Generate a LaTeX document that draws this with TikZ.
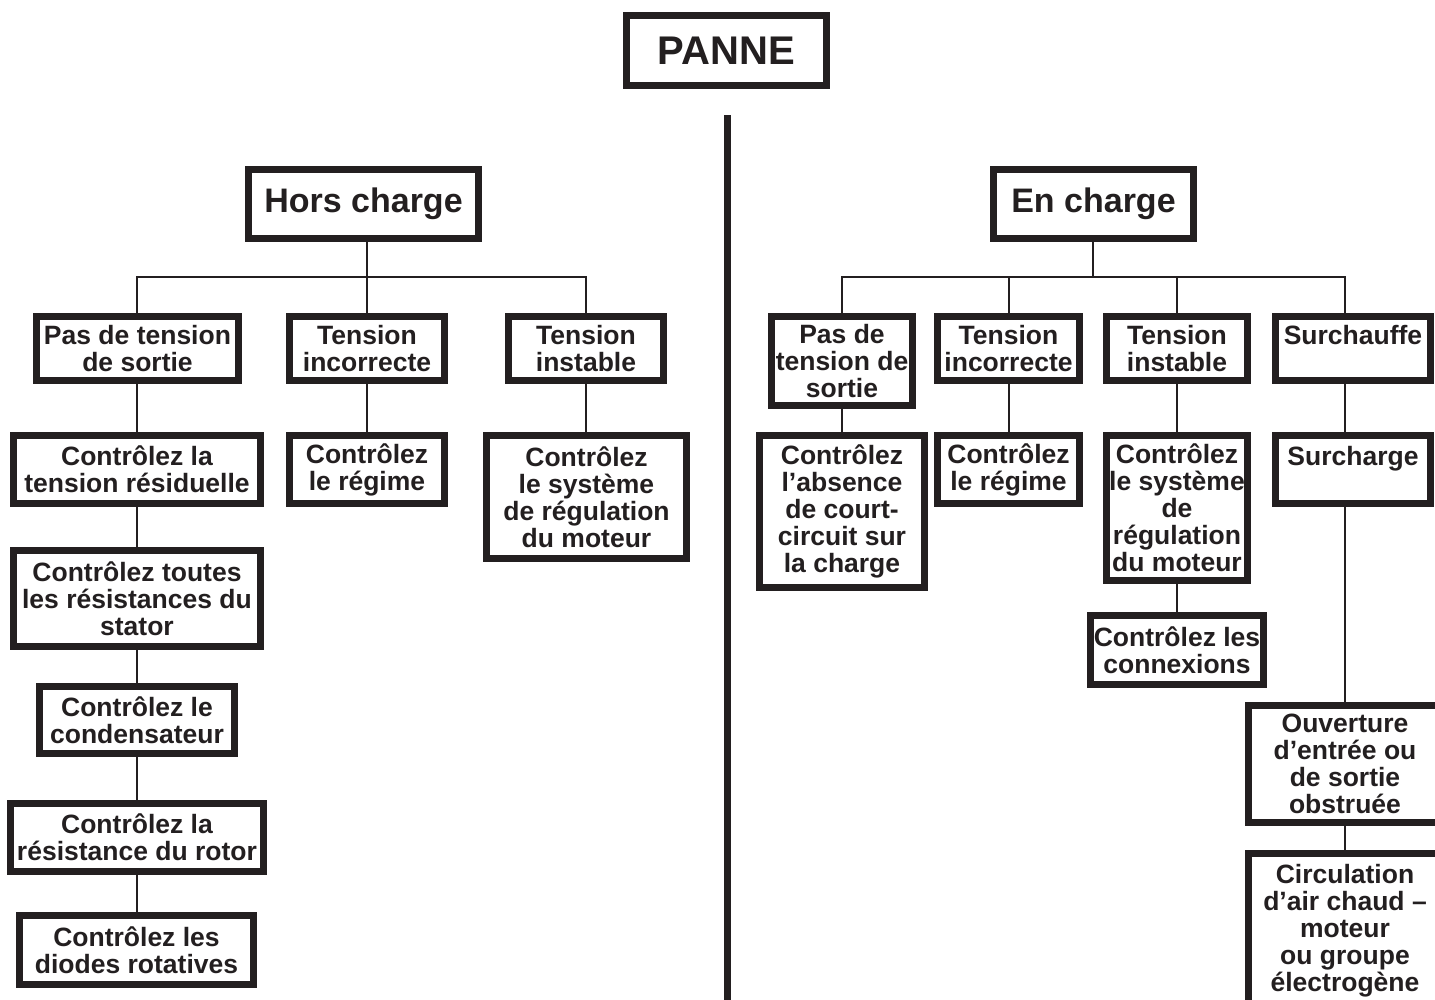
\documentclass[tikz,border=0pt]{standalone}
\usepackage{fontspec}
\setmainfont{Liberation Sans}
\definecolor{ink}{HTML}{231F20}
\tikzset{
  bx/.style={draw=ink,line width=7pt,fill=white,inner sep=0pt,align=center,text=ink,
    font=\bfseries\fontsize{26.5}{27}\selectfont},
  conn/.style={draw=ink,line width=2pt},
  divider/.style={draw=ink,line width=7pt}
}
\newcommand\mybox[7][]{%
  \pgfmathsetmacro\bcx{(#3+#5)/2}\pgfmathsetmacro\bcy{(#4+#6)/2}%
  \pgfmathsetmacro\bw{#5-#3-7}\pgfmathsetmacro\bh{#6-#4-7}%
  \node[bx,minimum width=\bw pt,minimum height=\bh pt,#1] (#2) at (\bcx,\bcy) {#7};}
\begin{document}
\begin{tikzpicture}[x=1pt,y=-1pt]
\useasboundingbox[fill=white] (0,0) rectangle (1435,999);
\clip (0,0) rectangle (1435,999);
% separator
\coordinate (divtop) at (727,115);
\coordinate (divbot) at (727,1005);
\draw[divider] (divtop) -- (divbot);
% buses
\coordinate (busL) at (367,277);
\coordinate (busR) at (1093,277);
\coordinate (colL) at (137,0);
\coordinate (colI) at (586,0);
\coordinate (colS) at (1345,0);
% top
\mybox[font=\bfseries\fontsize{40}{42}\selectfont]{panne}{623}{12}{830}{89}{PANNE}
\mybox[font=\bfseries\fontsize{34}{36}\selectfont]{hc}{245}{166}{482}{242}{Hors charge}
\mybox[font=\bfseries\fontsize{34}{36}\selectfont]{ec}{990}{166}{1197}{242}{En charge}
% left row 1
\mybox{l1}{33}{313}{242}{384}{Pas de tension\\de sortie}
\mybox{l2}{286}{313}{448}{384}{Tension\\incorrecte}
\mybox{l3}{505}{313}{667}{384}{Tension\\instable}
% left chain
\mybox{la}{10}{432}{264}{507}{Contrôlez la\\tension résiduelle}
\mybox{lb}{10}{547}{264}{650}{Contrôlez toutes\\les résistances du\\stator}
\mybox{lc}{36}{683}{238}{757}{Contrôlez le\\condensateur}
\mybox{ld}{7}{800}{267}{875}{Contrôlez la\\résistance du rotor}
\mybox{le}{16}{912}{257}{988}{Contrôlez les\\diodes rotatives}
\mybox{lm}{286}{432}{448}{507}{Contrôlez\\le régime}
\mybox{lr}{483}{432}{690}{562}{Contrôlez\\le système\\de régulation\\du moteur}
% right row 1
\mybox{r1}{768}{313}{916}{409}{Pas de\\tension de\\sortie}
\mybox{r2}{934}{313}{1083}{384}{Tension\\incorrecte}
\mybox{r3}{1103}{313}{1251}{384}{Tension\\instable}
\mybox{r4}{1272}{313}{1434}{384}{Surchauffe\\\mbox{}}
% right row 2
\mybox{ra}{756}{432}{928}{591}{Contrôlez\\l’absence\\de court-\\circuit sur\\la charge}
\mybox{rb}{934}{432}{1083}{507}{Contrôlez\\le régime}
\mybox{rc}{1103}{432}{1251}{584}{Contrôlez\\le système\\de\\régulation\\du moteur}
\mybox{rd}{1272}{432}{1434}{507}{Surcharge\\\mbox{}}
\mybox{re}{1087}{612}{1267}{688}{Contrôlez les\\connexions}
\mybox{rf}{1245}{702}{1445}{826}{Ouverture\\d’entrée ou\\de sortie\\obstruée}
\mybox{rg}{1245}{850}{1445}{1012}{Circulation\\d’air chaud –\\moteur\\ou groupe\\électrogène}
% connectors left
\draw[conn] (hc.south -| busL) -- (busL);
\draw[conn] (l1.north -| colL) |- (busL) -| (l3.north -| colI);
\draw[conn] (l2.north -| busL) -- (busL);
\draw[conn] (l1.south -| colL) -- (la.north -| colL);
\draw[conn] (la.south -| colL) -- (lb.north -| colL);
\draw[conn] (lb.south -| colL) -- (lc.north -| colL);
\draw[conn] (lc.south -| colL) -- (ld.north -| colL);
\draw[conn] (ld.south -| colL) -- (le.north -| colL);
\draw[conn] (l2.south -| busL) -- (lm.north -| busL);
\draw[conn] (l3.south -| colI) -- (lr.north -| colI);
% connectors right
\draw[conn] (ec.south -| busR) -- (busR);
\draw[conn] (r1.north) |- (busR) -| (r4.north -| colS);
\draw[conn] (r2.north) -- (r2.north |- busR);
\draw[conn] (r3.north) -- (r3.north |- busR);
\draw[conn] (r1.south) -- (ra.north);
\draw[conn] (r2.south) -- (rb.north -| r2.south);
\draw[conn] (r3.south) -- (rc.north);
\draw[conn] (rc.south) -- (re.north -| rc.south);
\draw[conn] (r4.south -| colS) -- (rd.north -| colS);
\draw[conn] (rd.south -| colS) -- (rf.north);
\draw[conn] (rf.south) -- (rg.north);
\end{tikzpicture}
\end{document}
